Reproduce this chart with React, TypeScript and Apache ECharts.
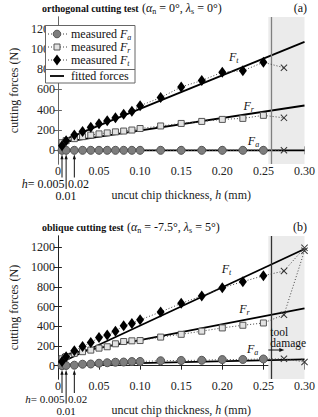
import React, { useEffect, useRef } from 'react';
import * as echarts from 'echarts';

// ---------- data ----------
const H = [0.005, 0.01, 0.02, 0.03, 0.04, 0.05, 0.06, 0.07, 0.08, 0.09, 0.10, 0.125, 0.15, 0.175, 0.20, 0.225, 0.25];

// (a) orthogonal cutting test
const FA_A = [0, 0, 0, 0, 0, 0, 0, 0, 0, 0, 0, 0, 0, 0, 0, 0, 0];
const FR_A = [75, 95, 115, 135, 150, 162, 172, 182, 190, 200, 215, 240, 265, 285, 305, 315, 345];
const FT_A = [45, 95, 150, 185, 228, 262, 292, 322, 355, 385, 440, 520, 625, 688, 770, 785, 868];
const H_FAIL_A = [0.275];
const FA_FAIL_A = [0];
const FR_FAIL_A = [320];
const FT_FAIL_A = [815];

// (b) oblique cutting test
const FA_B = [0, 2, 5, 15, 17, 25, 30, 35, 37, 42, 43, 50, 53, 55, 62, 63, 68];
const FR_B = [70, 92, 125, 142, 158, 178, 192, 222, 245, 252, 255, 290, 318, 350, 383, 410, 433];
const FT_B = [43, 90, 152, 195, 235, 285, 312, 350, 405, 428, 465, 545, 632, 707, 790, 852, 912];
const H_FAIL_B = [0.275, 0.30];
const FA_FAIL_B = [70, 38];
const FR_FAIL_B = [516, 1165];
const FT_FAIL_B = [960, 1195];

// fitted forces (end points of the straight fits)
const FIT_H = [0.005, 0.30];
const FIT_FA_A = [0, 0];
const FIT_FR_A = [78, 442];
const FIT_FT_A = [95, 1069];
const FIT_FA_B = [8, 63];
const FIT_FR_B = [108, 582];
const FIT_FT_B = [37, 1183];

const X_TICKS = [0, 0.05, 0.10, 0.15, 0.20, 0.25, 0.30];
const Y_TICKS = [0, 200, 400, 600, 800, 1000, 1200];
const DAMAGE_START = 0.256;
const ANNOT_H = [0.005, 0.01, 0.02];

// ---------- styles ----------
const SERIF = '"Liberation Serif", "DejaVu Serif", serif';
const XPATH = 'path://M0,1L1,0L5,4L9,0L10,1L6,5L10,9L9,10L5,6L1,10L0,9L4,5Z';
const DOT: any = [1, 2];

const MARK = {
  a: { symbol: 'circle', symbolSize: 8, itemStyle: { color: '#7d7d7d', borderColor: '#555', borderWidth: 1 } },
  r: { symbol: 'rect', symbolSize: 6, itemStyle: { color: '#e2e2e2', borderColor: '#555', borderWidth: 1 } },
  t: { symbol: 'diamond', symbolSize: [8, 11], itemStyle: { color: '#000', borderColor: '#000', borderWidth: 0 } },
};

function measured(xi: number, vals: number[], failH: number[], failV: number[], m: any) {
  const data: any[] = H.map((h, i) => [h, vals[i]]);
  failH.forEach((h, i) =>
    data.push({ value: [h, failV[i]], symbol: XPATH, symbolSize: 7, itemStyle: { color: '#333', borderWidth: 0 } })
  );
  return {
    type: 'line',
    xAxisIndex: xi,
    yAxisIndex: xi,
    data,
    symbol: m.symbol,
    symbolSize: m.symbolSize,
    showSymbol: true,
    itemStyle: m.itemStyle,
    lineStyle: { color: '#444', width: 1, type: DOT },
    z: 5,
    silent: true,
  };
}

function fitted(xi: number, vals: number[], extra?: any) {
  return {
    type: 'line',
    xAxisIndex: xi,
    yAxisIndex: xi,
    data: FIT_H.map((h, i) => [h, vals[i]]),
    showSymbol: false,
    symbol: 'none',
    lineStyle: { color: '#000', width: 1.8 },
    z: 3,
    silent: true,
    ...(extra || {}),
  };
}

function damageMarks(borderColor: string) {
  return {
    markArea: {
      silent: true,
      itemStyle: { color: '#ebebeb' },
      data: [[{ xAxis: DAMAGE_START }, { xAxis: 0.30 }]],
    },
    markLine: {
      silent: true,
      symbol: 'none',
      label: { show: false },
      lineStyle: { color: borderColor, type: 'solid', width: 1.3 },
      data: [{ xAxis: DAMAGE_START }],
    },
  };
}

function xAxes(grid: number, color: string) {
  const base = {
    gridIndex: grid,
    type: 'value',
    min: 0,
    max: 0.3,
    interval: 0.05,
    splitLine: { show: false },
    axisLine: { show: true, lineStyle: { color, width: 1 } },
    axisTick: { show: true, inside: true, length: 4, lineStyle: { color }, customValues: X_TICKS },
  };
  return [
    {
      ...base,
      position: 'bottom',
      axisLabel: {
        show: true,
        margin: 1,
        fontFamily: SERIF,
        fontSize: 12,
        color: '#222',
        customValues: X_TICKS,
        formatter: (v: number) => (v === 0 ? '0' : v.toFixed(2)),
      },
      name: '{n|uncut chip thickness, }{i|h}{n| (mm)}',
      nameLocation: 'middle',
      nameGap: 25,
      nameTextStyle: {
        rich: {
          n: { fontFamily: SERIF, fontSize: 12, color: '#222' },
          i: { fontFamily: SERIF, fontSize: 12, fontStyle: 'italic', color: '#222' },
        },
      },
    },
    { ...base, position: 'top', axisLabel: { show: false } },
  ];
}

function yAxes(grid: number, color: string) {
  const base = {
    gridIndex: grid,
    type: 'value',
    min: -135,
    max: 1315,
    splitLine: { show: false },
    axisLine: { show: true, lineStyle: { color, width: 1 } },
    axisTick: { show: true, inside: true, length: 4, lineStyle: { color }, customValues: Y_TICKS },
  };
  return [
    {
      ...base,
      position: 'left',
      axisLabel: {
        show: true,
        margin: 3,
        fontFamily: SERIF,
        fontSize: 12,
        color: '#222',
        customValues: Y_TICKS,
        formatter: (v: number) => String(Math.round(v)),
      },
      name: 'cutting forces (N)',
      nameLocation: 'middle',
      nameGap: 31,
      nameRotate: 90,
      nameTextStyle: { fontFamily: SERIF, fontSize: 12, color: '#222' },
    },
    { ...base, position: 'right', axisLabel: { show: false } },
  ];
}

const RICH = {
  b: { fontFamily: SERIF, fontSize: 10, fontWeight: 'bold', color: '#111', lineHeight: 14 },
  m: { fontFamily: SERIF, fontSize: 12, color: '#111', lineHeight: 14 },
  k: { fontFamily: SERIF, fontSize: 11, color: '#111', lineHeight: 11 },
  ki: { fontFamily: SERIF, fontSize: 11, fontStyle: 'italic', color: '#111', lineHeight: 11 },
  t: { fontFamily: SERIF, fontSize: 11.5, color: '#111', lineHeight: 12 },
  i: { fontFamily: SERIF, fontSize: 12, fontStyle: 'italic', color: '#111', lineHeight: 14 },
  s: { fontFamily: SERIF, fontSize: 8, color: '#111', padding: [7, 0, 0, 0], lineHeight: 14 },
  si: { fontFamily: SERIF, fontSize: 8, fontStyle: 'italic', color: '#111', padding: [7, 0, 0, 0], lineHeight: 14 },
};

function richText(x: number, y: number, text: string, align = 'left', extra: any = {}) {
  return {
    type: 'text',
    x,
    y,
    silent: true,
    z: 20,
    style: { text, rich: RICH, align, verticalAlign: 'middle', fill: '#111', ...extra },
  };
}

const App: React.FC = () => {
  const ref = useRef<HTMLDivElement>(null);

  useEffect(() => {
    if (!ref.current) return;
    const chart = echarts.init(ref.current, undefined, { renderer: 'svg' });
    const option: any = {
      animation: false,
      backgroundColor: '#fff',
      grid: [
        { left: 42, top: 17, width: 267, height: 147, show: false },
        { left: 42, top: 236, width: 267, height: 145, show: false },
      ],
      xAxis: [...xAxes(0, '#666'), ...xAxes(1, '#222')],
      yAxis: [...yAxes(0, '#666'), ...yAxes(1, '#222')],
      series: [
        fitted(0, FIT_FA_A, { ...damageMarks('#808080'), z: 1 }),
        fitted(0, FIT_FR_A),
        fitted(0, FIT_FT_A),
        measured(0, FA_A, H_FAIL_A, FA_FAIL_A, MARK.a),
        measured(0, FR_A, H_FAIL_A, FR_FAIL_A, MARK.r),
        measured(0, FT_A, H_FAIL_A, FT_FAIL_A, MARK.t),
        fitted(2, FIT_FA_B, { ...damageMarks('#333'), z: 1 }),
        fitted(2, FIT_FR_B),
        fitted(2, FIT_FT_B),
        measured(2, FA_B, H_FAIL_B, FA_FAIL_B, MARK.a),
        measured(2, FR_B, H_FAIL_B, FR_FAIL_B, MARK.r),
        measured(2, FT_B, H_FAIL_B, FT_FAIL_B, MARK.t),
      ],
    };
    chart.setOption(option);

    const px = (ai: number, h: number, v: number) =>
      chart.convertToPixel({ xAxisIndex: ai, yAxisIndex: ai }, [h, v]) as number[];

    const g: any[] = [];

    // titles
    g.push(richText(42, 8, '{b|orthogonal cutting test} {m|(}{i|α}{s|n}{m| = 0°, }{i|λ}{s|s}{m| = 0°)}'));
    g.push(richText(307, 8, '{m|(a)}', 'right'));
    g.push(richText(42, 227, '{b|oblique cutting test} {m|(}{i|α}{s|n}{m| = -7.5°, }{i|λ}{s|s}{m| = 5°)}'));
    g.push(richText(307, 227, '{m|(b)}', 'right'));

    // force labels (anchored in data coordinates)
    const labels: [number, number, number, string][] = [
      [0, 0.214, 924, 't'],
      [0, 0.232, 442, 'r'],
      [0, 0.238, 88, 'a'],
      [2, 0.205, 983, 't'],
      [2, 0.227, 575, 'r'],
      [2, 0.237, 169, 'a'],
    ];
    labels.forEach(([ai, h, v, s]) => {
      const p = px(ai, h, v);
      g.push(richText(p[0], p[1], `{i|F}{si|${s}}`, 'center'));
    });

    // tool damage note
    const td = px(2, DAMAGE_START, 0);
    g.push(richText(td[0] + 2, 332, '{t|tool}', 'left'));
    g.push(richText(td[0] + 2, 343, '{t|damage}', 'left'));
    g.push({ type: 'line', silent: true, z: 20, shape: { x1: td[0], y1: 350, x2: td[0] + 12, y2: 350 }, style: { stroke: '#111', lineWidth: 1 } });
    g.push({ type: 'polygon', silent: true, z: 20, shape: { points: [[td[0] + 16, 350], [td[0] + 11, 348], [td[0] + 11, 352]] }, style: { fill: '#111' } });

    // h annotations below both panels
    const annot: [number, number, number, number, string, string][] = [
      [0, 164, 19.5, 32, 'm', 'i'],
      [2, 381, 18, 29.5, 'k', 'ki'],
    ];
    annot.forEach(([ai, axisY, r1, r2, f, fi]) => {
      ANNOT_H.forEach((h, k) => {
        const p = px(ai, h, 0);
        const y0 = p[1] + 4;
        const y1 = axisY + (k === 1 ? r2 - 7 : r1 - 6);
        g.push({ type: 'line', silent: true, z: 20, shape: { x1: p[0], y1: y0 + 3, x2: p[0], y2: y1 }, style: { stroke: '#111', lineWidth: 1 } });
        g.push({ type: 'polygon', silent: true, z: 20, shape: { points: [[p[0], y0], [p[0] - 1.6, y0 + 5], [p[0] + 1.6, y0 + 5]] }, style: { fill: '#111' } });
      });
      const p005 = px(ai, 0.005, 0);
      const p01 = px(ai, 0.01, 0);
      g.push(richText(p005[0] + 2.5, axisY + r1, `{${fi}|h}{${f}|= 0.005}`, 'right'));
      g.push(richText(p01[0] + 2, axisY + r1, `{${f}|0.02}`, 'left'));
      g.push(richText(p01[0], axisY + r2, `{${f}|0.01}`, 'center'));
    });

    // legend for panel (a)
    const L = { x0: 45.5, y0: 25.5, x1: 135, y1: 83, sep: 69.5, sx: 57, tx: 71 };
    g.push({ type: 'rect', silent: true, z: 18, shape: { x: L.x0, y: L.y0, width: L.x1 - L.x0, height: L.y1 - L.y0 }, style: { fill: '#fff', stroke: '#666', lineWidth: 1 } });
    g.push({ type: 'line', silent: true, z: 19, shape: { x1: L.x0, y1: L.sep, x2: L.x1, y2: L.sep }, style: { stroke: '#666', lineWidth: 1 } });
    const rows: [number, string][] = [
      [34, 'a'],
      [47, 'r'],
      [60, 't'],
    ];
    rows.forEach(([y, s]) => {
      g.push({ type: 'line', silent: true, z: 19, shape: { x1: 48, y1: y, x2: 67, y2: y }, style: { stroke: '#444', lineWidth: 1, lineDash: [1, 2] } });
      if (s === 'a') g.push({ type: 'circle', silent: true, z: 20, shape: { cx: L.sx, cy: y, r: 3.8 }, style: { fill: '#7d7d7d', stroke: '#555', lineWidth: 1 } });
      if (s === 'r') g.push({ type: 'rect', silent: true, z: 20, shape: { x: L.sx - 3, y: y - 3, width: 6, height: 6 }, style: { fill: '#e2e2e2', stroke: '#555', lineWidth: 1 } });
      if (s === 't') g.push({ type: 'polygon', silent: true, z: 20, shape: { points: [[L.sx, y - 5.5], [L.sx + 4, y], [L.sx, y + 5.5], [L.sx - 4, y]] }, style: { fill: '#000' } });
      g.push(richText(L.tx, y, `{m|measured }{i|F}{si|${s}}`, 'left'));
    });
    g.push({ type: 'line', silent: true, z: 19, shape: { x1: 50, y1: 76, x2: 64, y2: 76 }, style: { stroke: '#000', lineWidth: 1.8 } });
    g.push(richText(L.tx, 76, '{m|fitted forces}', 'left'));

    chart.setOption({ graphic: g });

    return () => chart.dispose();
  }, []);

  return (
    <div
      ref={ref}
      style={{ position: 'fixed', left: 0, top: 0, width: 318, height: 417, background: '#fff' }}
    />
  );
};

export default App;
